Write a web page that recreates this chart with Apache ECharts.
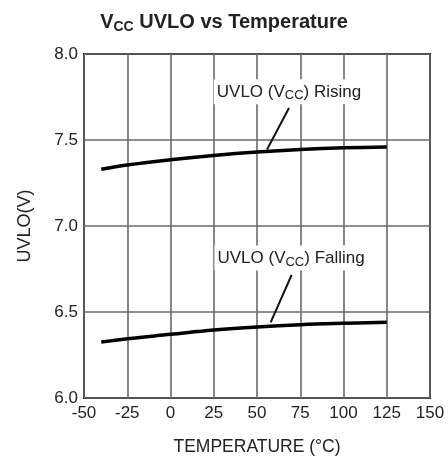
<!DOCTYPE html>
<html>
<head>
<meta charset="utf-8">
<script src="https://cdn.jsdelivr.net/npm/echarts@6/dist/echarts.min.js"></script>
<style>html,body{margin:0;padding:0;background:#fff}#c{width:448px;height:466px}</style>
</head>
<body>
<div id="c"></div>
<script>
const temps = [-40, -25, 0, 25, 50, 75, 100, 125];
const risingV = [7.33, 7.355, 7.385, 7.41, 7.43, 7.445, 7.455, 7.46];
const fallingV = [6.325, 6.345, 6.37, 6.395, 6.413, 6.426, 6.434, 6.44];
const xTicks = [-50, -25, 0, 25, 50, 75, 100, 125, 150];
const yTicks = [6.0, 6.5, 7.0, 7.5, 8.0];

const font = 'Liberation Sans, Arial, sans-serif';
const chart = echarts.init(document.getElementById('c'));

function pairs(xs, ys) { return xs.map((x, i) => [x, ys[i]]); }

const labelRich = {
  n: { fontSize: 17, fontFamily: font, color: '#222' },
  s: { fontSize: 13, fontFamily: font, color: '#222', padding: [8, 0, 0, 0] }
};

chart.setOption({
  animation: false,
  title: {
    text: '{v|V}{s|CC}{v| UVLO vs Temperature}',
    left: 'center',
    top: 5,
    textStyle: {
      rich: {
        v: { fontSize: 20, fontWeight: 'bold', fontFamily: font, color: '#222' },
        s: { fontSize: 14, fontWeight: 'bold', fontFamily: font, color: '#222', padding: [10, 0, 0, 0] }
      }
    }
  },
  grid: { left: 84, right: 18, top: 54, bottom: 68, show: true, borderColor: '#111', borderWidth: 2 },
  xAxis: {
    type: 'value', min: -50, max: 150, interval: 25,
    name: 'TEMPERATURE (°C)', nameLocation: 'middle', nameGap: 40,
    nameTextStyle: { fontSize: 17.5, fontFamily: font, color: '#222' },
    axisLine: { show: false }, axisTick: { show: false },
    axisLabel: { fontSize: 17, fontFamily: font, color: '#222', margin: 7,
      formatter: v => xTicks.includes(v) ? String(v) : '' },
    splitLine: { show: true, lineStyle: { color: '#6a6a6a', width: 1.6 } }
  },
  yAxis: {
    type: 'value', min: 6.0, max: 8.0, interval: 0.5,
    name: 'UVLO(V)', nameLocation: 'middle', nameGap: 50, nameRotate: 90,
    nameTextStyle: { fontSize: 18, fontFamily: font, color: '#222' },
    axisLine: { show: false }, axisTick: { show: false },
    axisLabel: { fontSize: 17, fontFamily: font, color: '#222', margin: 6,
      formatter: v => yTicks.some(t => Math.abs(t - v) < 1e-9) ? v.toFixed(1) : '' },
    splitLine: { show: true, lineStyle: { color: '#6a6a6a', width: 1.6 } }
  },
  series: [
    {
      name: 'Rising', type: 'line', smooth: 0.4, showSymbol: false,
      data: pairs(temps, risingV),
      lineStyle: { color: '#000', width: 3.5 },
      z: 5,
      markLine: {
        silent: true, symbol: ['none', 'arrow'], symbolSize: [0, 11],
        lineStyle: { color: '#111', width: 2, type: 'solid' },
        label: { show: false },
        data: [[{ coord: [68.5, 7.686] }, { coord: [55.8, 7.445] }]]
      },
      markPoint: {
        silent: true, symbol: 'rect', symbolSize: 1,
        itemStyle: { color: 'rgba(0,0,0,0)' },
        label: {
          show: true, position: 'inside', backgroundColor: '#fff', padding: [2, 3],
          formatter: '{n|UVLO (V}{s|CC}{n|) Rising}', rich: labelRich
        },
        data: [{ coord: [68.5, 7.78] }]
      }
    },
    {
      name: 'Falling', type: 'line', smooth: 0.4, showSymbol: false,
      data: pairs(temps, fallingV),
      lineStyle: { color: '#000', width: 3.5 },
      z: 5,
      markLine: {
        silent: true, symbol: ['none', 'arrow'], symbolSize: [0, 11],
        lineStyle: { color: '#111', width: 2, type: 'solid' },
        label: { show: false },
        data: [[{ coord: [70, 6.715] }, { coord: [57.9, 6.44] }]]
      },
      markPoint: {
        silent: true, symbol: 'rect', symbolSize: 1,
        itemStyle: { color: 'rgba(0,0,0,0)' },
        label: {
          show: true, position: 'inside', backgroundColor: '#fff', padding: [2, 3],
          formatter: '{n|UVLO (V}{s|CC}{n|) Falling}', rich: labelRich
        },
        data: [{ coord: [69.7, 6.814] }]
      }
    }
  ]
});
</script>
</body>
</html>
